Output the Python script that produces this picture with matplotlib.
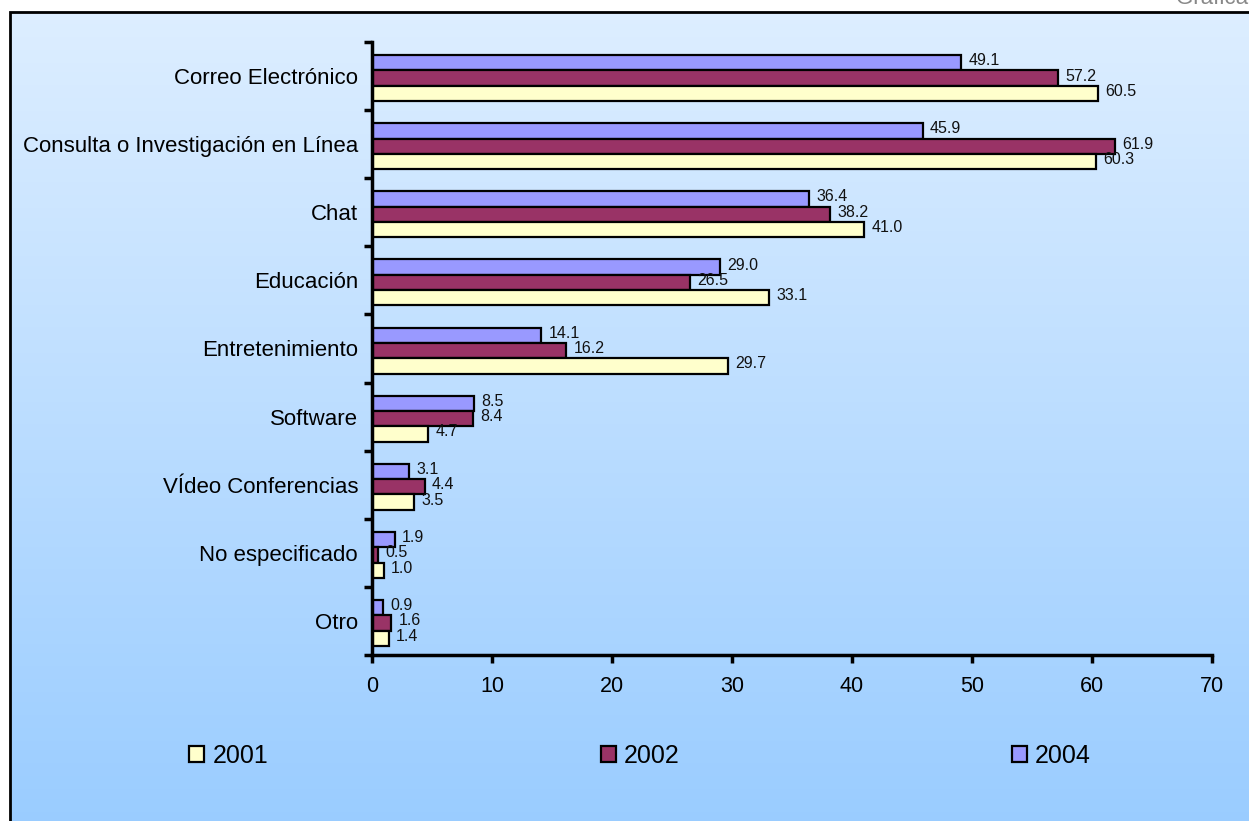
import numpy as np
import matplotlib
matplotlib.use("Agg")
import matplotlib.pyplot as plt
from matplotlib.patches import Rectangle
from matplotlib.colors import LinearSegmentedColormap

plt.rcParams['font.family'] = ['Liberation Sans', 'DejaVu Sans']

categories = ["Correo Electrónico", "Consulta o Investigación en Línea", "Chat",
              "Educación", "Entretenimiento", "Software", "VÍdeo Conferencias",
              "No especificado", "Otro"]
years = ["2001", "2002", "2004"]
v2001 = [60.5, 60.3, 41.0, 33.1, 29.7, 4.7, 3.5, 1.0, 1.4]
v2002 = [57.2, 61.9, 38.2, 26.5, 16.2, 8.4, 4.4, 0.5, 1.6]
v2004 = [49.1, 45.9, 36.4, 29.0, 14.1, 8.5, 3.1, 1.9, 0.9]
xticks = [0, 10, 20, 30, 40, 50, 60, 70]
colors = {"2001": "#FFFFCC", "2002": "#993366", "2004": "#9999FF"}

W, H = 1249, 821
fig = plt.figure(figsize=(W / 100, H / 100), dpi=100)

# background gradient
bg = fig.add_axes([0, 0, 1, 1], zorder=-10)
bg.set_axis_off()
cmap = LinearSegmentedColormap.from_list("g", ["#DDEEFF", "#99CCFF"])
grad = np.linspace(0, 1, 256).reshape(-1, 1)
bg.imshow(grad, aspect="auto", cmap=cmap, extent=[10 / W, 1.02, -0.02, 1 - 12 / H],
          origin="upper")
bg.add_patch(Rectangle((10 / W, -0.05), 1.1, 1 - 12 / H + 0.05, fill=False,
                       edgecolor="black", lw=2))
bg.set_xlim(0, 1)
bg.set_ylim(0, 1)
fig.text(1221 / W, 1 - 3.5 / H, "Gráfica 8", ha="center", va="baseline",
         fontsize=16, color="#888888")

ax = fig.add_axes([372 / W, 1 - 655 / H, 840 / W, 613 / H])
ax.patch.set_alpha(0)
n = len(categories)
y = np.arange(n)
h = 0.225
series = [("2004", v2004, -h), ("2002", v2002, 0.0), ("2001", v2001, h)]
handles = {}
for name, vals, off in series:
    bars = ax.barh(y + off + 0.03, vals, height=h, color=colors[name],
                   edgecolor="black", linewidth=1.6, label=name)
    handles[name] = bars
    for yi, v in zip(y, vals):
        ax.text(v + 0.6, yi + off + 0.0, f"{v:.1f}", va="center", ha="left",
                fontsize=11.5, color="#111111")

ax.set_ylim(n - 0.5, -0.5)
ax.set_xlim(0, 70)
ax.set_xticks(xticks)
ax.set_xticklabels([str(t) for t in xticks], fontsize=15.5)
ax.set_yticks(y)
ax.set_yticklabels(categories, fontsize=16)
ax.set_yticks(np.arange(-0.5, n, 1.0), minor=True)
ax.tick_params(axis="y", which="major", length=0, pad=10)
ax.tick_params(axis="y", which="minor", length=6, width=2.5, direction="out")
ax.tick_params(axis="x", which="major", length=6, width=2.5, direction="out", pad=9)
for s in ["top", "right"]:
    ax.spines[s].set_visible(False)
for s in ["left", "bottom"]:
    ax.spines[s].set_linewidth(2.5)

fig.legend([handles[k] for k in years], years, ncol=3, loc="center left",
           bbox_to_anchor=(167 / W, 1 - 756 / H), frameon=False, fontsize=18,
           handlelength=0.6, handleheight=0.6, handletextpad=0.32,
           columnspacing=13.3)

fig.savefig("out.png", dpi=100)
